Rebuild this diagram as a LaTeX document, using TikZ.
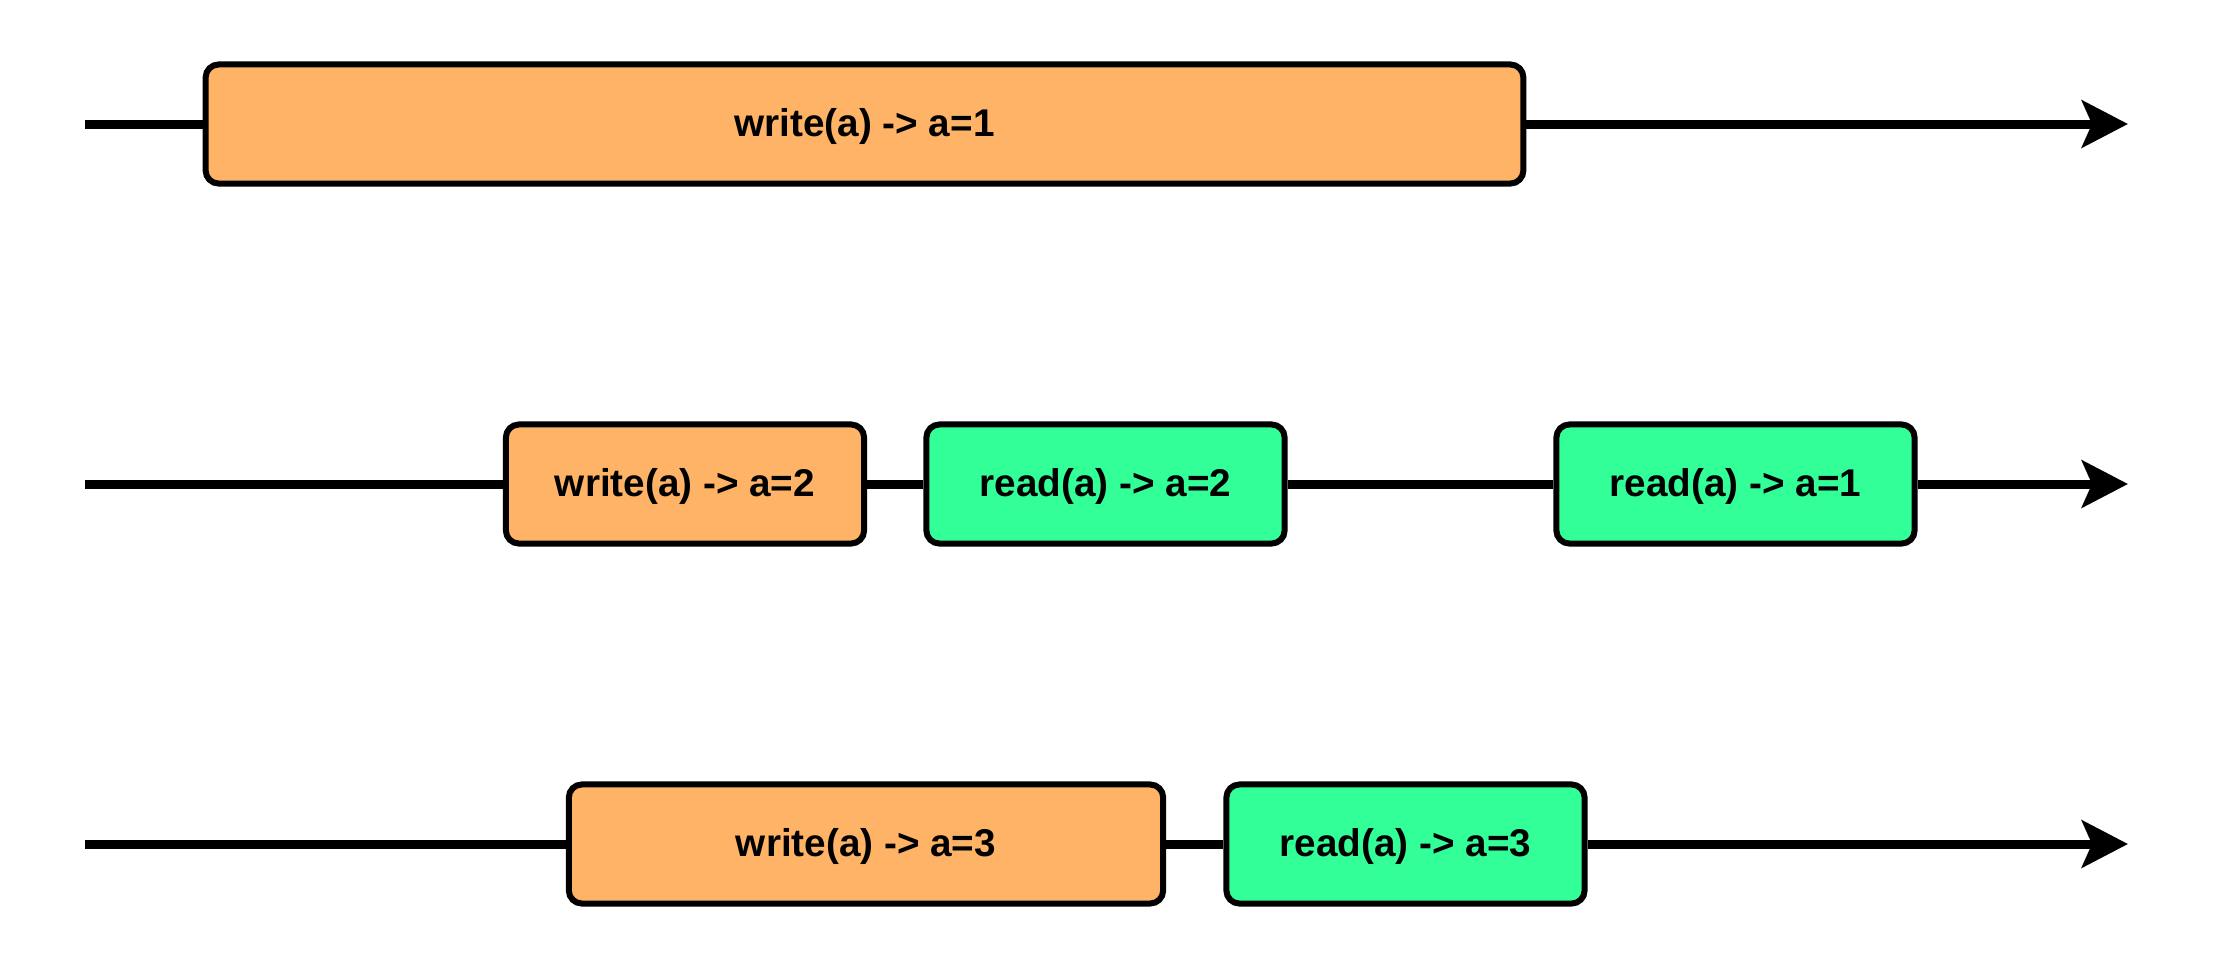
\documentclass[tikz,border=0pt]{standalone}
\usepackage{fontspec}
\setmainfont{Liberation Sans}
\usepackage{xcolor}
\usetikzlibrary{arrows.meta}
\definecolor{writebg}{HTML}{FFB366}
\definecolor{readbg}{HTML}{33FF99}

\begin{document}
\begin{tikzpicture}[
    x=0.01cm, y=-0.01cm,
    op/.style={draw=black, line width=0.06cm, rounded corners=0.13cm,
               minimum height=1.19cm, inner sep=0pt,
               text height=0.72em, text depth=0pt,
               font=\fontsize{11}{13}\selectfont\bfseries},
    wr/.style={op, fill=writebg},
    rd/.style={op, fill=readbg},
    timeline/.style={line width=0.09cm},
    arrow/.style={timeline, -{Stealth[length=0.46cm, width=0.47cm, inset=0.1cm]}}
]
    \useasboundingbox (0,0) rectangle (2217,966);

    % Process 1
    \coordinate (s1) at (85, 124);
    \coordinate (e1) at (2128, 124);
    \node[wr, minimum width=13.17cm] (w1) at (864.5, 124) {write(a) -> a=1};

    % Process 2
    \coordinate (s2) at (85, 484);
    \coordinate (e2) at (2128, 484);
    \node[wr, minimum width=3.58cm] (w2) at (685, 484)    {write(a) -> a=2};
    \node[rd, minimum width=3.58cm] (r2) at (1105.5, 484) {read(a) -> a=2};
    \node[rd, minimum width=3.58cm] (r1) at (1735.5, 484) {read(a) -> a=1};

    % Process 3
    \coordinate (s3) at (85, 844);
    \coordinate (e3) at (2128, 844);
    \node[wr, minimum width=5.94cm] (w3) at (866, 844)    {write(a) -> a=3};
    \node[rd, minimum width=3.58cm] (r3) at (1405.5, 844) {read(a) -> a=3};

    % Timelines
    \draw[timeline] (s1) -- (w1);
    \draw[arrow] (w1) -- (e1);
    \draw[timeline] (s2) -- (w2);
    \draw[timeline] (w2) -- (r2);
    \draw[timeline] (r2) -- (r1);
    \draw[arrow] (r1) -- (e2);
    \draw[timeline] (s3) -- (w3);
    \draw[timeline] (w3) -- (r3);
    \draw[arrow] (r3) -- (e3);
\end{tikzpicture}
\end{document}
